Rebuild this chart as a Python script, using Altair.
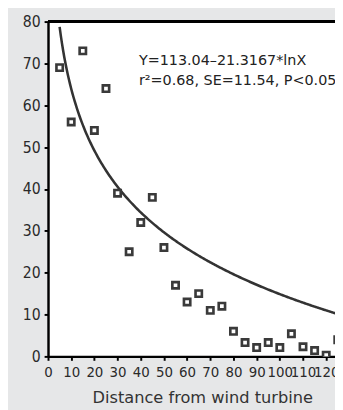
import altair as alt
import pandas as pd

# ---- data ----
distance = [5, 10, 15, 20, 25, 30, 35, 40, 45, 50, 55, 60, 65, 70, 75,
            80, 85, 90, 95, 100, 105, 110, 115, 120, 125]
abundance = [69, 56, 73, 54, 64, 39, 25, 32, 38, 26, 17, 13, 15, 11, 12,
             6, 3.3, 2.1, 3.3, 2.1, 5.4, 2.3, 1.4, 0.3, 4]
x_ticks = [0, 10, 20, 30, 40, 50, 60, 70, 80, 90, 100, 110, 120]
y_ticks = [0, 10, 20, 30, 40, 50, 60, 70, 80]

# fitted model stated on the chart
intercept = 113.04
slope = 21.3167
eq_lines = ["Y=113.04–21.3167*lnX", "r²=0.68, SE=11.54, P<0.05"]
eq_x = [39.2, 39.2]
eq_y = [69.6, 64.8]
x_title = "Distance from wind turbine"

x_domain = [0, 123.8]
y_domain = [0, 80]

label_font = "Liberation Sans Narrow, DejaVu Sans Condensed, sans-serif"
text_font = "DejaVu Sans"

pts = pd.DataFrame({"d": distance, "v": abundance})
ann = pd.DataFrame({"x": eq_x, "y": eq_y, "t": eq_lines})

x_scale = alt.Scale(domain=x_domain, nice=False, zero=False)
y_scale = alt.Scale(domain=y_domain, nice=False)

x_axis = alt.Axis(values=x_ticks, title=x_title, grid=False, labelOverlap=False,
                  labelFlush=False, titleX=158, titleY=47, titleBaseline="alphabetic",
                  titleAlign="center", labelFontSize=15.2)
y_axis = alt.Axis(values=y_ticks, title=None, grid=False, labelOverlap=False,
                  labelFlush=False, labelFontSize=16)

curve = alt.Chart(alt.sequence(5, 131, 0.5, as_="x")).transform_calculate(
    y=f"{intercept} - {slope}*log(datum.x)"
).mark_line(color="#333333", strokeWidth=2.6, clip=True).encode(
    x=alt.X("x:Q", scale=x_scale, axis=x_axis),
    y=alt.Y("y:Q", scale=y_scale, axis=y_axis),
)

points = alt.Chart(pts).mark_point(
    shape="square", filled=False, fill="white", fillOpacity=1,
    stroke="#3a3a3a", strokeWidth=2.7, size=42, opacity=1, clip=True
).encode(
    x=alt.X("d:Q", scale=x_scale, axis=x_axis),
    y=alt.Y("v:Q", scale=y_scale, axis=y_axis),
)

top_line = alt.Chart(pts).mark_rule(color="black", strokeWidth=2.5).encode(
    y=alt.datum(80, scale=y_scale)
)

text = alt.Chart(ann).mark_text(
    align="left", baseline="alphabetic", font=text_font, fontSize=14.7,
    color="#222222"
).encode(
    x=alt.X("x:Q", scale=x_scale, axis=x_axis),
    y=alt.Y("y:Q", scale=y_scale, axis=y_axis),
    text="t:N",
)

chart = alt.layer(curve, points, top_line, text).properties(
    width=294, height=343,
    padding={"left": 41, "top": 9, "right": 0, "bottom": 50},
    autosize=alt.AutoSizeParams(type="none"),
    background="#e6e7e8",
).configure_view(
    fill="white", stroke="transparent"
).configure_axis(
    domainColor="black", domainWidth=2.5, tickColor="black", tickWidth=2,
    tickSize=4, labelFont=label_font, labelColor="#2a2a2a",
    titleFont=text_font, titleFontSize=16.6, titleFontWeight="normal",
    titleColor="#333333",
).configure_axisX(labelPadding=5).configure_axisY(labelPadding=4)

chart.save("out.html", embed_options={"renderer": "svg", "actions": False})
